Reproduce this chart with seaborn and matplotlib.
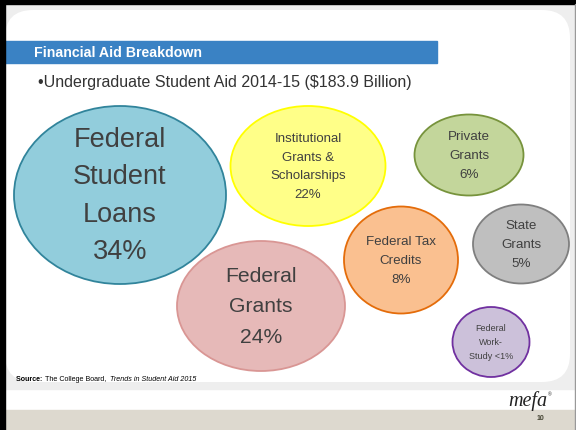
import matplotlib
matplotlib.use("Agg")
import matplotlib.pyplot as plt
from matplotlib.patches import Ellipse, Rectangle, FancyBboxPatch
import seaborn as sns

# data
categories = ["Federal Student Loans", "Institutional Grants & Scholarships",
              "Federal Grants", "Private Grants", "State Grants",
              "Federal Tax Credits", "Federal Work-Study"]
shares = ["34%", "22%", "24%", "6%", "5%", "8%", "<1%"]
label_lines = [["Federal", "Student", "Loans"],
               ["Institutional", "Grants &", "Scholarships"],
               ["Federal", "Grants"],
               ["Private", "Grants"],
               ["State", "Grants"],
               ["Federal Tax", "Credits"],
               ["Federal", "Work-", "Study <1%"]]

# layout (pixel space of the slide)
cx = [120, 308, 261, 469, 521, 401, 491]
cy = [196, 167, 307, 156, 245, 261, 343]
ew = [212, 155, 168, 109, 96, 114, 77]
eh = [178, 120, 130, 81, 79, 107, 70]
font_sz = [19.5, 9.5, 15.2, 9.6, 9.6, 9.6, 6.5]
line_gap = [37.5, 18.7, 30.5, 19, 19, 19, 14]
fills = ["#92cddc", "#ffff88", "#e6b9b8", "#c3d69b", "#bfbfbf", "#fac090", "#ccc1da"]
edges = ["#31849b", "#ffff00", "#d99694", "#77933c", "#7f7f7f", "#e46c0a", "#7030a0"]

sns.set_theme(style="white")
plt.rcParams['font.family'] = ['Liberation Sans', 'DejaVu Sans']

fig = plt.figure(figsize=(5.76, 4.31), dpi=100)
ax = fig.add_axes([0, 0, 1, 1])
ax.set_xlim(0, 576)
ax.set_ylim(431, 0)
ax.axis("off")

# slide background
ax.add_patch(Rectangle((0, 0), 576, 431, color="white", zorder=0))
ax.add_patch(Rectangle((5, 5), 571, 385, color="#eeeeee", zorder=0))
ax.add_patch(FancyBboxPatch((5, 11), 565, 372, boxstyle="round,pad=0,rounding_size=28",
                            fc="white", ec="none", zorder=0))
ax.add_patch(Rectangle((5, 60), 30, 300, color="white", zorder=0))
ax.add_patch(Rectangle((0, 411), 576, 20, color="#ddd9cf", zorder=0))
ax.add_patch(Rectangle((0, 0), 576, 5, color="black", zorder=5))
ax.add_patch(Rectangle((0, 0), 5, 431, color="black", zorder=5))
ax.plot([575, 575], [5, 431], color="#999999", lw=1, zorder=5)

# title bar
ax.add_patch(Rectangle((5, 42), 432, 22, color="#3a82c4", zorder=1))
ax.text(34, 53, "Financial Aid Breakdown", color="white", fontsize=10.2,
        fontweight="bold", va="center", ha="left", zorder=2)
ax.text(38, 83, "\u2022Undergraduate Student Aid 2014-15 ($183.9 Billion)",
        color="#333333", fontsize=11.5, va="center", ha="left", zorder=2)

# bubbles
for i, cat in enumerate(categories):
    ax.add_patch(Ellipse((cx[i], cy[i]), ew[i], eh[i], fc=fills[i], ec=edges[i],
                         lw=1.3, zorder=3))
    lines = list(label_lines[i])
    if cat != "Federal Work-Study":
        lines.append(shares[i])
    n = len(lines)
    for k, t in enumerate(lines):
        ax.text(cx[i], cy[i] + (k - (n - 1) / 2) * line_gap[i], t, fontsize=font_sz[i],
                color="#404040", ha="center", va="center", zorder=4)

# footer: source line built piece by piece
renderer = fig.canvas.get_renderer()
x0 = 16
for txt, kw in [("Source: ", dict(fontweight="bold")),
                ("The College Board, ", dict()),
                ("Trends in Student Aid 2015", dict(style="italic"))]:
    t = ax.text(x0, 380, txt, fontsize=5.1, color="black", va="center", **kw)
    bb = t.get_window_extent(renderer)
    x0 += bb.width + 1

ax.text(547, 401, "mefa", fontsize=14.5, style="italic", family="Liberation Serif",
        color="#222222", ha="right", va="center")
ax.text(548, 395, "\u00ae", fontsize=3.5, color="#222222", ha="left", va="center")
ax.text(540, 419, "10", fontsize=5, fontweight="bold", color="#444433",
        ha="center", va="center")

fig.savefig("out.png", dpi=100)
